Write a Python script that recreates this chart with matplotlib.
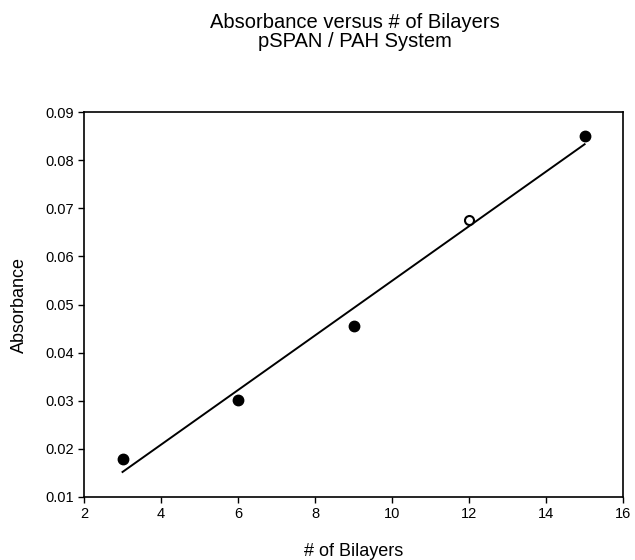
import numpy as np
import matplotlib
matplotlib.use("Agg")
import matplotlib.pyplot as plt

plt.rcParams['font.family'] = ['Liberation Sans', 'DejaVu Sans']

# data
bilayers = [3, 6, 9, 15]
absorbance = [0.0179, 0.0302, 0.0456, 0.0850]
open_bilayers = [12]
open_absorbance = [0.0675]
fit_x = [3, 15]
fit_y = [0.0152, 0.0833]

xticks = np.arange(2, 17, 2)
yticks = [0.01, 0.02, 0.03, 0.04, 0.05, 0.06, 0.07, 0.08, 0.09]

fig = plt.figure(figsize=(6.35, 5.6), dpi=100)
ax = fig.add_axes([0.1323, 0.1125, 0.849, 0.6875])

ax.plot(fit_x, fit_y, color='black', lw=1.4)
ax.plot(bilayers, absorbance, 'o', color='black', markersize=7.5)
ax.plot(open_bilayers, open_absorbance, 'o', mfc='white', mec='black',
        mew=1.5, markersize=6.5)

ax.set_xlim(2, 16)
ax.set_ylim(0.01, 0.09)
ax.set_xticks(xticks)
ax.set_yticks(yticks)
ax.set_yticklabels(['%.2f' % v for v in yticks])
ax.tick_params(direction='out', length=4, width=1, labelsize=10.5)
for s in ax.spines.values():
    s.set_linewidth(1.2)

fig.text(0.559, 0.943, 'Absorbance versus # of Bilayers\npSPAN / PAH System',
         ha='center', va='center', fontsize=14.5, linespacing=0.95)
fig.text(0.557, 0.016, '# of Bilayers', ha='center', va='center', fontsize=13)
fig.text(0.030, 0.455, 'Absorbance', ha='center', va='center', rotation=90, fontsize=13)

fig.savefig('out.png', dpi=100)
